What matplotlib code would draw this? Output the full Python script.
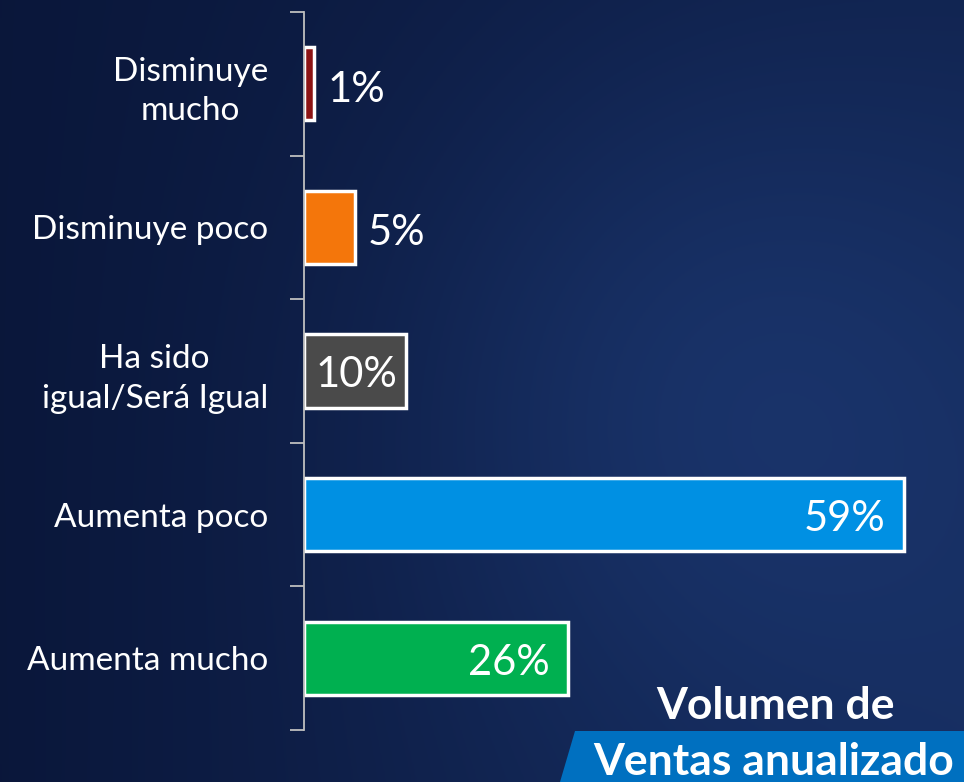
import numpy as np
import matplotlib
matplotlib.use("Agg")
import matplotlib.pyplot as plt
from matplotlib.patches import Polygon

plt.rcParams['font.family'] = ['Lato', 'DejaVu Sans']

categories = ["Disminuye\nmucho", "Disminuye poco", "Ha sido\nigual/Será Igual",
              "Aumenta poco", "Aumenta mucho"]
values = [1, 5, 10, 59, 26]
labels = ["1%", "5%", "10%", "59%", "26%"]
colors = ["#8c1414", "#f4760b", "#4a4a4a", "#0090e3", "#00b050"]

W, H = 964, 782
fig = plt.figure(figsize=(W / 100, H / 100), dpi=100)

# background gradient
bg = fig.add_axes([0, 0, 1, 1], zorder=0)
gx, gy = np.meshgrid(np.linspace(0, 1, 300), np.linspace(0, 1, 300))
glow = np.exp(-(((gx - 0.75) / 0.35) ** 2 + ((gy - 0.5) / 0.45) ** 2))
t = np.clip(0.3 * gx + 0.4 * glow + 0.25 * gx * gy, 0, 1)
dark = np.array([0.04, 0.09, 0.23])
light = np.array([0.12, 0.24, 0.48])
img = dark + t[..., None] * (light - dark)
bg.imshow(img, extent=[0, 1, 0, 1], aspect='auto', origin='upper')
bg.set_xlim(0, 1)
bg.set_ylim(0, 1)
bg.axis('off')

# blue banner bottom right
banner = Polygon([(575 / W, 1 - 731 / H), (1, 1 - 731 / H), (1, 0), (560 / W, 0)],
                 closed=True, facecolor="#0070c0", edgecolor='none', transform=bg.transAxes)
bg.add_patch(banner)
bg.text(895 / W, 1 - 706 / H, "Volumen de", color='white', fontsize=32, fontweight='bold',
        ha='right', va='center', transform=bg.transAxes)
bg.text(954 / W, 1 - 762 / H, "Ventas anualizado", color='white', fontsize=32, fontweight='bold',
        ha='right', va='center', transform=bg.transAxes)

# bar chart
ax = fig.add_axes([304 / W, 1 - 730 / H, 660 / W, 718 / H], zorder=1)
ax.patch.set_alpha(0)
y = np.arange(len(categories))
ax.barh(y, values, height=0.51, color=colors, edgecolor='white', linewidth=2.5)
ax.set_ylim(len(categories) - 0.5, -0.5)
ax.set_xlim(0, 64.9)

for yi, v, lab in zip(y, values, labels):
    if v < 8:
        ax.text(v + 1.3, yi + 0.04, lab, color='white', fontsize=30, ha='left', va='center')
    elif v < 15:
        ax.text(v - 0.8, yi + 0.03, lab, color='white', fontsize=30, ha='right', va='center')
    else:
        ax.text(v - 1.8, yi + 0.03, lab, color='white', fontsize=30, ha='right', va='center')

ax.set_yticks(y)
ax.set_yticklabels(categories, color='white', fontsize=24, multialignment='center',
                   linespacing=1.4)
ax.tick_params(axis='y', which='major', length=0, pad=26)
ax.set_yticks(np.arange(-0.5, len(categories), 1), minor=True)
ax.tick_params(axis='y', which='minor', length=10, width=1.3, color='#bfbfbf')
ax.set_xticks([])
for s in ['top', 'right', 'bottom']:
    ax.spines[s].set_visible(False)
ax.spines['left'].set_color('#bfbfbf')
ax.spines['left'].set_linewidth(1.3)

fig.savefig("out.png", dpi=100)
